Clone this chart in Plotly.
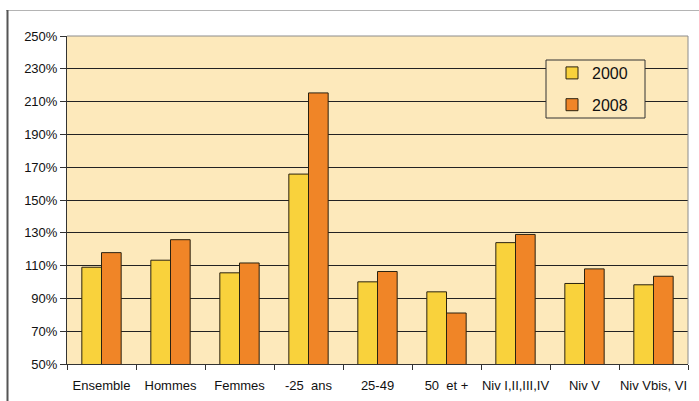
import plotly.graph_objects as go

# Categories and ratios (in %) for the two years
categories = ["Ensemble", "Hommes", "Femmes", "-25  ans", "25-49", "50  et +",
              "Niv I,II,III,IV", "Niv V", "Niv Vbis, VI"]
values_2000 = [109.0, 113.3, 105.6, 165.8, 100.1, 94.0, 124.0, 99.1, 98.3]
values_2008 = [117.9, 125.8, 111.6, 215.3, 106.4, 81.1, 129.0, 108.0, 103.5]
y_ticks = [50, 70, 90, 110, 130, 150, 170, 190, 210, 230, 250]
y_tick_labels = [f"{v}%" for v in y_ticks]

W, H = 699, 401
ML, MR, MT, MB = 67, 11, 36, 37
PW, PH = W - ML - MR, H - MT - MB


def px_x(px):
    return (px - ML) / PW


def px_y(py):
    return 1 - (py - MT) / PH


fig = go.Figure()
fig.add_trace(go.Bar(
    x=categories, y=values_2000, name="2000", legendgroup="a",
    marker=dict(color="#F9D23C", line=dict(color="#2a2210", width=1)),
))
fig.add_trace(go.Bar(
    x=categories, y=values_2008, name="2008", legendgroup="b",
    marker=dict(color="#F08527", line=dict(color="#2a2210", width=1)),
))

shapes = [
    # legend frame
    dict(type="rect", xref="paper", yref="paper",
         x0=px_x(546), x1=px_x(645), y0=px_y(118), y1=px_y(60),
         fillcolor="#FDE9BB", line=dict(color="#333333", width=1), layer="above"),
    # outer frame lines
    dict(type="line", xref="paper", yref="paper",
         x0=px_x(6), x1=px_x(699), y0=px_y(10.5), y1=px_y(10.5),
         line=dict(color="#b4b4b4", width=1)),
    dict(type="line", xref="paper", yref="paper",
         x0=px_x(7.5), x1=px_x(7.5), y0=px_y(10), y1=px_y(402),
         line=dict(color="#555555", width=2)),
    # thin grey border on the top and right of the plotting area
    dict(type="line", xref="paper", yref="paper", x0=0, x1=1, y0=1, y1=1,
         line=dict(color="#8c8c8c", width=1)),
    dict(type="line", xref="paper", yref="paper", x0=1, x1=1, y0=0, y1=1,
         line=dict(color="#8c8c8c", width=1)),
]

fig.update_layout(
    width=W, height=H,
    margin=dict(l=ML, r=MR, t=MT, b=MB, autoexpand=False),
    paper_bgcolor="white",
    plot_bgcolor="#FDE9BB",
    barmode="group",
    bargap=0.43,
    bargroupgap=0,
    font=dict(family="Liberation Sans, Arial, sans-serif", size=13, color="#111111"),
    shapes=shapes,
    showlegend=True,
    legend=dict(
        x=px_x(552), y=px_y(56), xanchor="left", yanchor="top",
        bgcolor="rgba(0,0,0,0)", borderwidth=0,
        font=dict(size=16, color="#111111"),
        tracegroupgap=8, itemwidth=30,
    ),
    xaxis=dict(
        type="category", automargin=False,
        showline=True, linecolor="#333333", linewidth=1,
        ticks="outside", ticklen=5, tickcolor="#333333", tickson="boundaries",
        showgrid=False, tickangle=0, ticklabelstandoff=9,
        tickfont=dict(size=13),
    ),
    yaxis=dict(
        range=[50, 250], automargin=False,
        tickvals=y_ticks, ticktext=y_tick_labels,
        showline=True, linecolor="#333333", linewidth=1,
        ticks="outside", ticklen=6, tickcolor="#333333",
        showgrid=True, gridcolor="#222222", gridwidth=1,
        zeroline=False,
        tickfont=dict(size=13),
    ),
)

fig.write_html("out.html")
